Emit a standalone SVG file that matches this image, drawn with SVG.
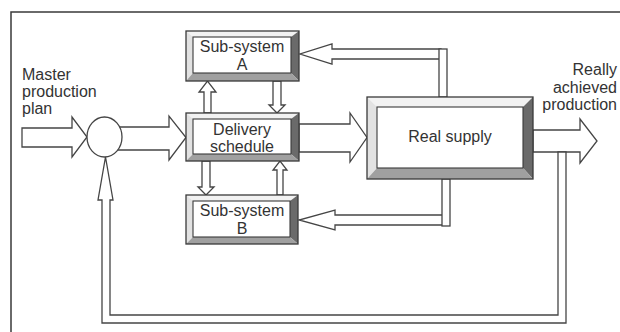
<svg xmlns="http://www.w3.org/2000/svg" width="620" height="332" viewBox="0 0 620 332">
  <style>
    .frame { fill: none; stroke: #3a3a3a; stroke-width: 1.5; }
    .arrow { fill: #ffffff; stroke: #454545; stroke-width: 1.3; stroke-linejoin: miter; }
    .edge { stroke: #3a3a3a; stroke-width: 1.2; stroke-linejoin: miter; }
    .bev-top { fill: #f2f2f2; }
    .bev-left { fill: #e2e2e2; }
    .bev-right { fill: #6a6a6a; }
    .bev-bottom { fill: #a0a0a0; }
    .face { fill: #ffffff; stroke: #3a3a3a; stroke-width: 1.1; }
    .outer { fill: none; stroke: #3a3a3a; stroke-width: 1.3; }
    .label { font-family: "Liberation Sans", Arial, sans-serif; font-size: 16px; fill: #333333; }
    .mid { text-anchor: middle; }
    .end { text-anchor: end; }
  </style>

  <!-- outer frame, open at the right and bottom -->
  <path class="frame" d="M11,332 V12 H620"/>

  <!-- connectors -->
  <g id="connectors">
    <!-- master production plan into the comparator -->
    <polygon class="arrow" points="22,128 72,128 72,117 87,137 72,157 72,147 22,147"/>
    <!-- comparator to delivery schedule -->
    <polygon class="arrow" points="112,127 169,127 169,116 186,137.5 169,160 169,150 112,150"/>
    <!-- delivery schedule to real supply -->
    <polygon class="arrow" points="299,124 350,124 350,113 367,137.5 350,162 350,152 299,152"/>
    <!-- real supply output -->
    <polygon class="arrow" points="533,130 580,130 580,119 597,141 580,163 580,152 533,152"/>
    <!-- feedback loop from the output back to the comparator -->
    <polygon class="arrow" points="566,152 566,323 102,323 102,200 98,200 105.5,157 113,200 110,200 110,315 558,315 558,152"/>
    <!-- real supply feedback to sub-system A -->
    <polygon class="arrow" points="441,49 332,49 332,44 300,54 332,64 332,59 441,59"/>
    <rect class="arrow" x="439" y="49" width="8" height="48"/>
    <!-- real supply feedback to sub-system B -->
    <polygon class="arrow" points="444,215 335,215 335,210 299,220 335,230 335,225 444,225"/>
    <rect class="arrow" x="442" y="179" width="8" height="47"/>
    <!-- delivery schedule <-> sub-system A -->
    <polygon class="arrow" points="204,113 204,92 199,92 207.5,81 216,92 211,92 211,113"/>
    <polygon class="arrow" points="273,81 273,105 269,105 277,113 285,105 281,105 281,81"/>
    <!-- delivery schedule <-> sub-system B -->
    <polygon class="arrow" points="202,161 202,187 198,187 206,195 214,187 210,187 210,161"/>
    <polygon class="arrow" points="277,195 277,170 273,170 280,161 287,170 283,170 283,195"/>
  </g>

  <!-- comparator -->
  <g id="comparator">
    <ellipse class="arrow" cx="104.5" cy="137" rx="17.5" ry="20"/>
  </g>

  <!-- sub-system A -->
  <g id="subsystem-a">
    <polygon class="bev-top" points="186,31 299,31 291,37 193,37"/>
    <polygon class="bev-left" points="186,31 193,37 193,73 186,81"/>
    <polygon class="bev-right" points="299,31 299,81 291,73 291,37"/>
    <polygon class="bev-bottom" points="186,81 299,81 291,73 193,73"/>
    <rect class="face" x="193" y="37" width="98" height="36"/>
    <rect class="outer" x="186" y="31" width="113" height="50"/>
    <text class="label mid" x="242" y="52">Sub-system</text>
    <text class="label mid" x="242" y="70">A</text>
  </g>

  <!-- delivery schedule -->
  <g id="delivery-schedule">
    <polygon class="bev-top" points="186,113 299,113 291,119 193,119"/>
    <polygon class="bev-left" points="186,113 193,119 193,154 186,161"/>
    <polygon class="bev-right" points="299,113 299,161 291,154 291,119"/>
    <polygon class="bev-bottom" points="186,161 299,161 291,154 193,154"/>
    <rect class="face" x="193" y="119" width="98" height="35"/>
    <rect class="outer" x="186" y="113" width="113" height="48"/>
    <text class="label mid" x="242" y="135">Delivery</text>
    <text class="label mid" x="242" y="152">schedule</text>
  </g>

  <!-- sub-system B -->
  <g id="subsystem-b">
    <polygon class="bev-top" points="186,195 298,195 290,201 193,201"/>
    <polygon class="bev-left" points="186,195 193,201 193,237 186,244"/>
    <polygon class="bev-right" points="298,195 298,244 290,237 290,201"/>
    <polygon class="bev-bottom" points="186,244 298,244 290,237 193,237"/>
    <rect class="face" x="193" y="201" width="97" height="36"/>
    <rect class="outer" x="186" y="195" width="112" height="49"/>
    <text class="label mid" x="242" y="216">Sub-system</text>
    <text class="label mid" x="242" y="234">B</text>
  </g>

  <!-- real supply -->
  <g id="real-supply">
    <polygon class="bev-top" points="367,97 533,97 523,107 377,107"/>
    <polygon class="bev-left" points="367,97 377,107 377,168 367,179"/>
    <polygon class="bev-right" points="533,97 533,179 523,168 523,107"/>
    <polygon class="bev-bottom" points="367,179 533,179 523,168 377,168"/>
    <rect class="face" x="377" y="107" width="146" height="61"/>
    <rect class="outer" x="367" y="97" width="166" height="82"/>
    <text class="label mid" x="450" y="142">Real supply</text>
  </g>

  <!-- input and output labels -->
  <g id="input-label">
    <text class="label" x="22" y="80">Master</text>
    <text class="label" x="22" y="97">production</text>
    <text class="label" x="22" y="114">plan</text>
  </g>
  <g id="output-label">
    <text class="label end" x="617" y="75">Really</text>
    <text class="label end" x="617" y="93">achieved</text>
    <text class="label end" x="617" y="110">production</text>
  </g>
</svg>
